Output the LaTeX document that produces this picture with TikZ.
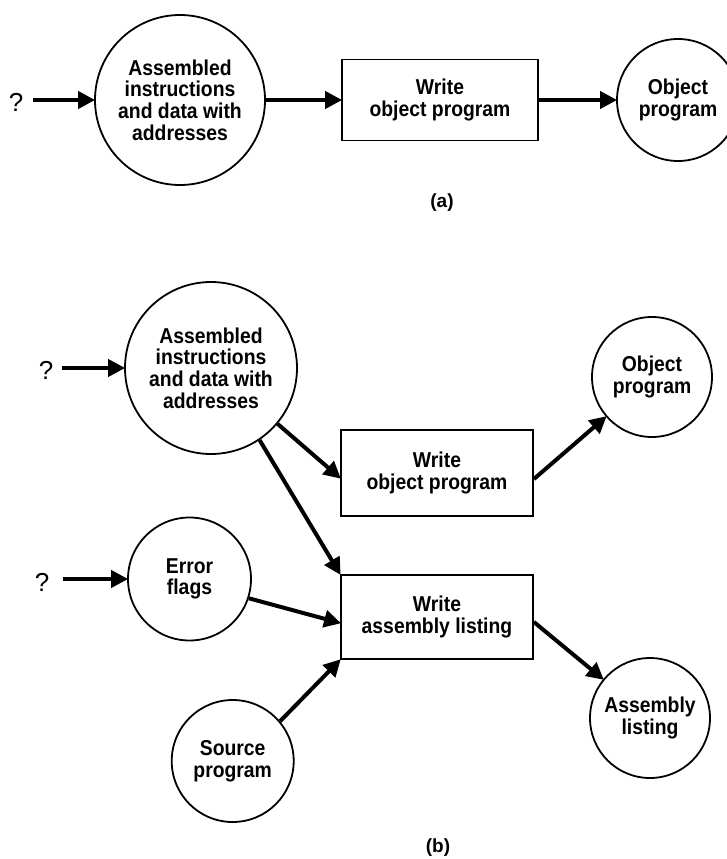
\documentclass[tikz,border=0pt]{standalone}
\usepackage{fontspec}
\setmainfont{Liberation Sans}
\newfontfamily\labfont[FakeStretch=0.9]{Liberation Sans Bold}
\newfontfamily\capfont{Liberation Sans}
\usetikzlibrary{arrows.meta}
\begin{document}
\begin{tikzpicture}[x=1pt,y=-1pt,
  lab/.style={font=\labfont\fontsize{21.5}{21.7}\selectfont, align=center},
  bubble/.style={lab, draw, circle, line width=1.8pt, inner sep=0pt},
  procbox/.style={lab, draw, rectangle, line width=1.8pt, inner sep=0pt},
  flow/.style={line width=4pt, -{Triangle[length=17pt,width=17pt]}, shorten >=-1pt},
  qmark/.style={font=\capfont\fontsize{26}{26}\selectfont, inner sep=0pt},
  caption/.style={font=\capfont\bfseries\fontsize{19}{19}\selectfont, inner sep=0pt}]
\useasboundingbox (0,0) rectangle (727,859);
\begin{scope}
\clip (0,0) rectangle (727,859);

% ---------- (a) ----------
\node[qmark] (qa) at (16,102) {?};
\coordinate (qa0) at (33,100);
\node[bubble, minimum size=170pt] (asma) at (180,100)
  {Assembled\\instructions\\and data with\\addresses};
\node[procbox, minimum width=196pt, minimum height=81pt] (wra) at (440,100)
  {Write\\object program};
\node[bubble, minimum size=122pt] (obja) at (678,100) {Object\\program};
\node[caption] (capa) at (442,203) {(a)};

\draw[flow] (qa0) -- (asma.west);
\draw[flow] (asma.east) -- (wra.west);
\draw[flow] (wra.east) -- (obja.west);

% ---------- (b) ----------
\node[qmark] (qb) at (46,370) {?};
\coordinate (qb0) at (62,368);
\node[bubble, minimum size=172pt] (asmb) at (211,368)
  {Assembled\\instructions\\and data with\\addresses};
\node[procbox, minimum width=192pt, minimum height=86pt] (wob) at (437,473)
  {Write\\object program};
\node[bubble, minimum size=120pt] (objb) at (652,377) {Object\\program};

\node[qmark] (qe) at (42,582) {?};
\coordinate (qe0) at (63,579);
\node[bubble, minimum size=123pt] (err) at (189.5,579) {Error\\flags};
\node[procbox, minimum width=192pt, minimum height=84pt] (wal) at (437,617)
  {Write\\assembly listing};
\node[bubble, minimum size=122pt] (src) at (232.7,761) {Source\\program};
\node[bubble, minimum size=120pt] (asl) at (650,718) {Assembly\\listing};
\node[caption] (capb) at (438,848) {(b)};

\draw[flow] (qb0) -- (asmb.west);
\draw[flow] (qe0) -- (err.west);
\draw[flow] (asmb.-40) -- ([yshift=-5pt]wob.west);
\draw[flow] (asmb.-56) -- (wal.north west);
\draw[flow] ([yshift=-6pt]wob.east) -- (objb);
\draw[flow] (err.-18) -- ([yshift=-6pt]wal.west);
\draw[flow] (src.40) -- (wal.south west);
\draw[flow] ([yshift=-5pt]wal.east) -- (asl);
\end{scope}
\end{tikzpicture}
\end{document}
